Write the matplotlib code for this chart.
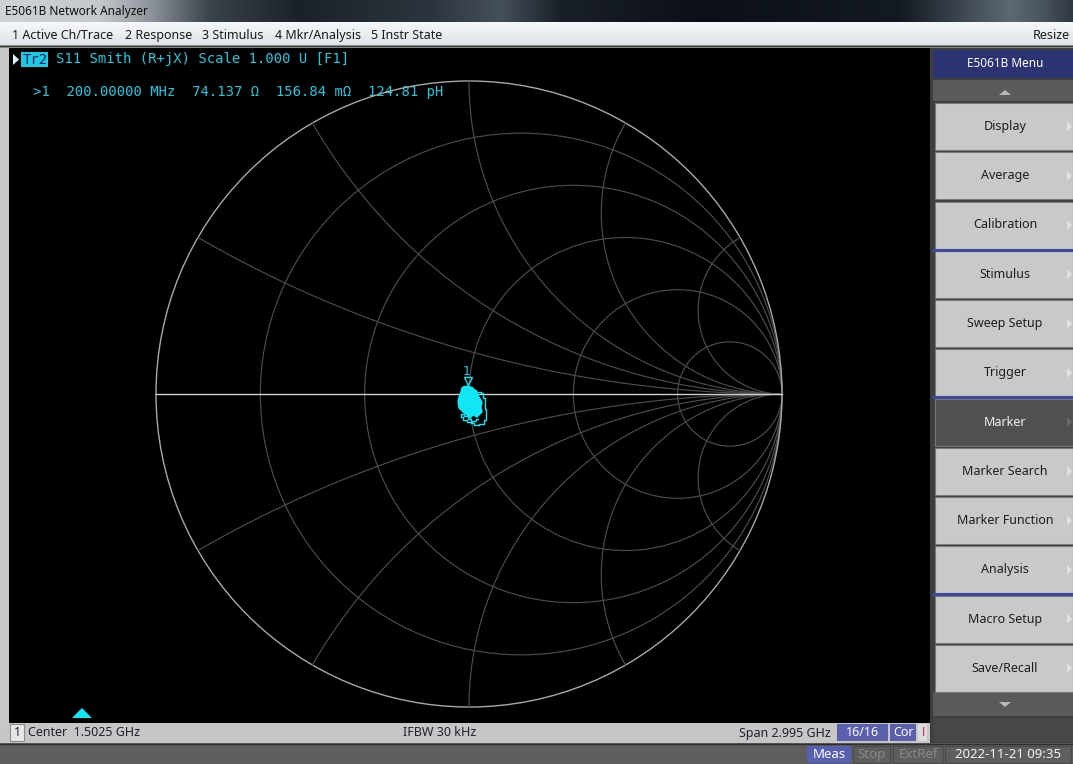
import numpy as np
import matplotlib
matplotlib.use("Agg")
import matplotlib.pyplot as plt
from matplotlib.patches import Rectangle, Polygon, Circle
from matplotlib.transforms import offset_copy

W, H = 1073, 764

# ---------------- data ----------------
trace_label = "Tr2"
trace_param = "S11 Smith (R+jX) Scale 1.000 U [F1]"
z0 = 75.0
marker_freq_mhz = 200.0
marker_r_ohm = 74.137
marker_x_mohm = 156.84
marker_l_ph = 124.81
center_ghz = 1.5025
span_ghz = 2.995
ifbw_khz = 30
avg_count = "16/16"
datestamp = "2022-11-21 09:35"

# Smith grid values (normalised resistance circles / reactance arcs)
grid_r = [0.2, 0.5, 1.0, 2.0, 5.0]
grid_x = [0.268, 0.577, 1.0, 1.732, 3.732]

# measured S11 cluster (reflection coefficient, real / imag) - dense core outline
blob_re = [-0.0192, -0.0032, 0.0128, 0.0256, 0.0319, 0.0415, 0.0383, 0.0415, 0.0319, 0.0256,
           0.0128, 0.0032, -0.0064, -0.0192, -0.0319, -0.0351, -0.0319, -0.0256, -0.0224]
blob_im = [0.0224, 0.0256, 0.0192, 0.0032, -0.0096, -0.0256, -0.0415, -0.0575, -0.0671, -0.0735,
           -0.0671, -0.0767, -0.0671, -0.0575, -0.0447, -0.0256, -0.0096, 0.0064, 0.0192]
# wandering excursions of the same trace
path_re = [0.0160, 0.0288, 0.0447, 0.0479, 0.0543, 0.0511, 0.0575, 0.0543, 0.0415, 0.0224,
           0.0096, 0.0032, -0.0096, -0.0224, -0.0256, -0.0128, 0.0032, 0.0160, 0.0288]
path_im = [0.0128, 0.0064, 0.0032, -0.0128, -0.0288, -0.0479, -0.0639, -0.0831, -0.0958, -0.0990,
           -0.0927, -0.0799, -0.0703, -0.0639, -0.0735, -0.0831, -0.0895, -0.0863, -0.0799]

menu_items = ["1 Active Ch/Trace", "2 Response", "3 Stimulus", "4 Mkr/Analysis", "5 Instr State"]
softkeys = ["Display", "Average", "Calibration", "Stimulus", "Sweep Setup", "Trigger",
            "Marker", "Marker Search", "Marker Function", "Analysis", "Macro Setup", "Save/Recall"]
selected_key = "Marker"

# ---------------- layout / style ----------------
menu_x = [12, 125, 202, 275, 371]
CYAN_TXT = "#1ccbe2"
CYAN_TR = "#12e6f4"
UIF = "Noto Sans"
MONO = "DejaVu Sans Mono"

fig = plt.figure(figsize=(W / 100, H / 100), dpi=100)
fig.patch.set_facecolor("#c8c8c8")
ui = fig.add_axes([0, 0, 1, 1])
ui.set_xlim(0, W)
ui.set_ylim(H, 0)
ui.axis("off")


def rect(x0, y0, x1, y1, fc, ec="none", lw=0, z=1):
    ui.add_patch(Rectangle((x0, y0), x1 - x0, y1 - y0, fc=fc, ec=ec, lw=lw, zorder=z))


# title bar gradient
stops_x = [0, 100, 150, 210, 300, 430, 500, 560, 700, 900, 980, 1010, 1040, 1073]
stops_c = ["#cfd3d8", "#c4c8cc", "#8d949b", "#3a424a", "#1b2128", "#2c353e", "#46505a",
           "#1a2028", "#0b1018", "#141a22", "#4a545e", "#5e6872", "#4c5660", "#2e363e"]
cols = np.array([matplotlib.colors.to_rgb(c) for c in stops_c])
xs = np.arange(W)
grad = np.stack([np.interp(xs, stops_x, cols[:, k]) for k in range(3)], axis=-1)[None, :, :]
ui.imshow(grad, extent=[0, W, 22, 0], aspect="auto", zorder=1, interpolation="bilinear")
ui.text(5, 12, "E5061B Network Analyzer", fontsize=8.5, family=UIF, color="#101010",
        va="center", ha="left", zorder=3)

# menu bar
vg = np.linspace(0, 1, 23)[:, None, None]
top_c = np.array(matplotlib.colors.to_rgb("#f5f7f9"))
bot_c = np.array(matplotlib.colors.to_rgb("#dfe4ea"))
mgrad = top_c * (1 - vg) + bot_c * vg
mgrad = np.repeat(mgrad, 2, axis=1)
ui.imshow(mgrad, extent=[0, W, 45, 22], aspect="auto", zorder=1)
for lab, x in zip(menu_items, menu_x):
    ui.text(x, 35.5, lab, fontsize=9, family=UIF, color="#1a1a1a", va="center", ha="left", zorder=3)
ui.text(1070, 35.5, "Resize", fontsize=9, family=UIF, color="#1a1a1a", va="center", ha="right", zorder=3)
rect(0, 45, W, 48, "#8a8a8a", z=2)
ui.plot([0, W], [45.5, 45.5], color="#3c3c3c", lw=0.8, zorder=3)

# left border & graticule area
rect(0, 48, 9, 743, "#c8c8c8", z=1)
rect(9, 48, 930, 723, "#000000", z=1)

# header texts
ui.add_patch(Polygon([[13, 54], [13, 65], [19, 59.5]], closed=True, fc="#d8f4ff", ec="none", zorder=3))
rect(21, 52, 48, 67, CYAN_TXT, z=3)
ui.text(22.5, 59.5, trace_label, fontsize=10, family=MONO, color="#10206a", va="center", ha="left", zorder=4)
ui.text(56, 59.5, trace_param, fontsize=10, family=MONO, color=CYAN_TXT, va="center", ha="left", zorder=4)
readout = (f">1  {marker_freq_mhz:.5f} MHz  {marker_r_ohm:.3f} \u03a9  "
           f"{marker_x_mohm:.2f} m\u03a9  {marker_l_ph:.2f} pH")
ui.text(33, 92, readout, fontsize=10, family=MONO, color=CYAN_TXT, va="center", ha="left", zorder=4)

# stimulus marker indicator
f_start = center_ghz * 1000 - span_ghz * 500
frac = (marker_freq_mhz - f_start) / (span_ghz * 1000)
STIM_X0, STIM_W = 24, 890
mx = STIM_X0 + frac * STIM_W
ui.add_patch(Polygon([[mx - 10, 718], [mx + 10, 718], [mx, 708]], closed=True, fc=CYAN_TR, ec="none", zorder=3))

# channel status bar
rect(0, 723, 930, 743, "#c6c6c6", z=1)
rect(10, 724, 24, 741, "#e6e6e6", ec="#8c8c8c", lw=0.8, z=2)
ui.text(17, 733, "1", fontsize=9, family=UIF, color="#1a1a40", va="center", ha="center", zorder=3)
ui.text(28, 733, f"Center  {center_ghz:.4f} GHz", fontsize=9, family=UIF, color="#202030",
        va="center", ha="left", zorder=3)
ui.text(403, 733, f"IFBW {ifbw_khz} kHz", fontsize=9, family=UIF, color="#202030",
        va="center", ha="left", zorder=3)
ui.text(831, 733, f"Span {span_ghz:.3f} GHz", fontsize=9, family=UIF, color="#202030",
        va="center", ha="right", zorder=3)
rect(837, 724, 888, 741, "#5a5fae", z=2)
ui.text(862.5, 733, avg_count, fontsize=9, family=UIF, color="#ffffff", va="center", ha="center", zorder=3)
rect(890, 724, 916, 741, "#5a5fae", z=2)
ui.text(903, 733, "Cor", fontsize=9, family=UIF, color="#ffffff", va="center", ha="center", zorder=3)
rect(918, 724, 927, 741, "#dcdcdc", z=2)
ui.text(922.5, 733, "!", fontsize=9, family=UIF, color="#d0105a", va="center", ha="center", zorder=3)

# instrument status bar
rect(0, 743, W, H, "#5e5e5e", z=1)
ui.plot([0, W], [743.5, 743.5], color="#2e2e2e", lw=1.0, zorder=2)
rect(807, 746, 851, 763, "#5560b0", z=2)
ui.text(829, 754.5, "Meas", fontsize=9.5, family=UIF, color="#ffffff", va="center", ha="center", zorder=3)
rect(853, 746, 890, 763, "#5e5e5e", ec="#4a4a4a", lw=0.8, z=2)
ui.text(871.5, 754.5, "Stop", fontsize=9.5, family=UIF, color="#888888", va="center", ha="center", zorder=3)
rect(893, 746, 943, 763, "#5e5e5e", ec="#4a4a4a", lw=0.8, z=2)
ui.text(918, 754.5, "ExtRef", fontsize=9.5, family=UIF, color="#888888", va="center", ha="center", zorder=3)
rect(945, 746, 1071, 763, "#5e5e5e", ec="#4a4a4a", lw=0.8, z=2)
ui.text(1008, 754.5, datestamp, fontsize=9.5, family=UIF, color="#f2f2f2", va="center", ha="center", zorder=3)

# soft key panel
rect(930, 48, W, 743, "#3e3e3e", z=1)
rect(933, 50, W, 78, "#2b3372", z=2)
ui.text(1005, 63.5, "E5061B Menu", fontsize=8.5, family=UIF, color="#ffffff", va="center", ha="center", zorder=3)
rect(933, 80, W, 101, "#5a5a5a", z=2)
ui.add_patch(Polygon([[999, 95], [1011, 95], [1005, 90]], closed=True, fc="#b8b8b8", ec="none", zorder=3))
step = 49.25
for i, lab in enumerate(softkeys):
    top = 103 + step * i
    sel = lab == selected_key
    rect(935, top, W, top + 47, "#505050" if sel else "#c9c9c9", ec="#7a7a7a", lw=0.8, z=2)
    cyk = top + 23.5
    ui.text(1005, cyk, lab, fontsize=9, family=UIF, color="#f0f0f0" if sel else "#1e1e1e",
            va="center", ha="center", zorder=3)
    ui.add_patch(Polygon([[1067, cyk - 5], [1067, cyk + 5], [1072, cyk]], closed=True,
                         fc="#6a6a6a" if sel else "#e2e2e2", ec="none", zorder=3))
for gy in [103 + step * 3 - 1.2, 103 + step * 6 - 1.2, 103 + step * 10 - 1.2]:
    ui.plot([933, W], [gy, gy], color="#3d4a9c", lw=2.2, zorder=4)
rect(933, 693, W, 716, "#5a5a5a", z=2)
ui.add_patch(Polygon([[999, 702], [1011, 702], [1005, 707]], closed=True, fc="#b8b8b8", ec="none", zorder=3))
rect(933, 718, W, 742, "#474747", z=2)

# ---------------- Smith chart ----------------
cx, cy0, R = 469, 394, 313
sx = fig.add_axes([(cx - R) / W, (H - (cy0 + R)) / H, 2 * R / W, 2 * R / H])
sx.set_xlim(-1, 1)
sx.set_ylim(-1, 1)
sx.axis("off")
sx.patch.set_alpha(0)

GRID = "#4c4c4c"
for r in grid_r:
    sx.add_patch(Circle((r / (1 + r), 0), 1 / (1 + r), fill=False, ec=GRID, lw=0.85, clip_on=False))
rr = np.concatenate([np.linspace(0, 1, 300), np.logspace(0, 4, 600)])
for x in grid_x:
    for s in (1, -1):
        z = rr + 1j * s * x
        g = (z - 1) / (z + 1)
        sx.plot(g.real, g.imag, color=GRID, lw=0.85, clip_on=False)
sx.add_patch(Circle((0, 0), 1, fill=False, ec="#a8a8a8", lw=1.0, clip_on=False))
sx.plot([-1, 1], [0, 0], color="#cfcfcf", lw=1.0, clip_on=False)

# trace
sx.add_patch(Polygon(list(zip(blob_re, blob_im)), closed=True, fc=CYAN_TR, ec=CYAN_TR, lw=1.0, zorder=5))
sx.plot(path_re, path_im, color=CYAN_TR, lw=1.0, zorder=5, drawstyle="steps-mid")

# marker 1
zm = complex(marker_r_ohm, marker_x_mohm / 1000) / z0
gm = (zm - 1) / (zm + 1)
sx.plot([gm.real], [gm.imag], marker="v", ms=6, mfc="none", mec=CYAN_TR, mew=1.0,
        transform=offset_copy(sx.transData, fig=fig, x=0.5, y=12.5, units="dots"), zorder=6)
sx.text(gm.real, gm.imag, "1", fontsize=9, family=MONO, color=CYAN_TXT, ha="center", va="center",
        transform=offset_copy(sx.transData, fig=fig, x=-0.5, y=22, units="dots"), zorder=6)

fig.savefig("out.png", dpi=100, facecolor=fig.get_facecolor())
